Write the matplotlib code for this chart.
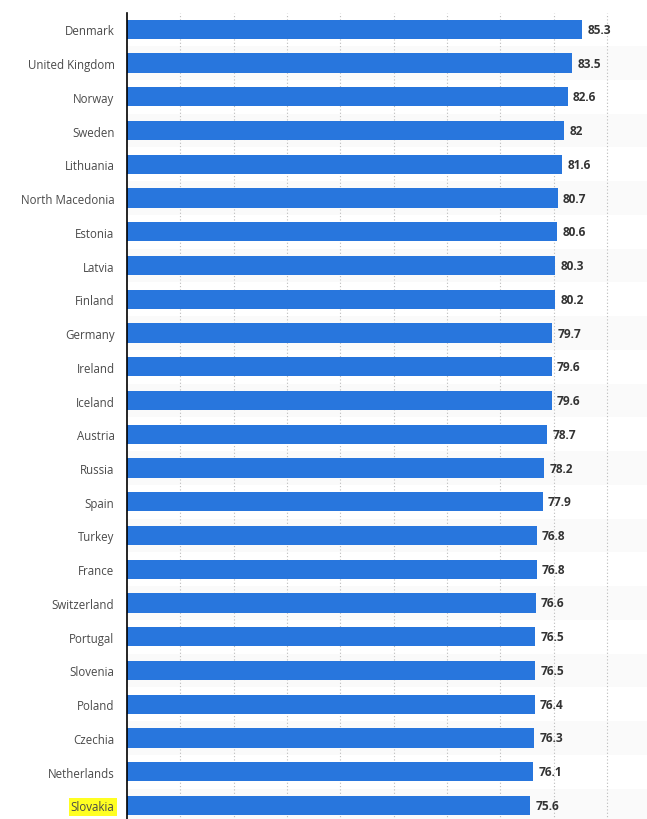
import matplotlib.pyplot as plt
import numpy as np

countries = ["Denmark", "United Kingdom", "Norway", "Sweden", "Lithuania",
             "North Macedonia", "Estonia", "Latvia", "Finland", "Germany",
             "Ireland", "Iceland", "Austria", "Russia", "Spain", "Turkey",
             "France", "Switzerland", "Portugal", "Slovenia", "Poland",
             "Czechia", "Netherlands", "Slovakia"]
values = [85.3, 83.5, 82.6, 82, 81.6, 80.7, 80.6, 80.3, 80.2, 79.7, 79.6,
          79.6, 78.7, 78.2, 77.9, 76.8, 76.8, 76.6, 76.5, 76.5, 76.4, 76.3,
          76.1, 75.6]
labels = ["85.3", "83.5", "82.6", "82", "81.6", "80.7", "80.6", "80.3",
          "80.2", "79.7", "79.6", "79.6", "78.7", "78.2", "77.9", "76.8",
          "76.8", "76.6", "76.5", "76.5", "76.4", "76.3", "76.1", "75.6"]

W, H = 647, 820
fig = plt.figure(figsize=(W / 100, H / 100), dpi=100)
# axes slightly below the bottom edge, like the cropped screenshot
top_px, bot_px = 13.5, 823.3
ax = fig.add_axes([127 / W, 1 - bot_px / H, 1 - 127 / W, (bot_px - top_px) / H])

y = np.arange(len(countries))
# alternating row bands
for i in y:
    if i % 2 == 1:
        ax.axhspan(i - 0.5, i + 0.5, color="#fafafa", zorder=0, lw=0)

ax.barh(y, values, height=0.57, color="#2876dd", zorder=3)
for yi, v, t in zip(y, values, labels):
    ax.annotate(t, (v, yi), xytext=(3.8, 0), textcoords="offset points",
                va="center", ha="left", fontsize=8.6, fontweight="bold",
                color="#333333", family="Open Sans")

ax.set_xlim(0, 97.47)
ax.set_ylim(len(countries) - 0.5, -0.5)
ax.set_xticks(np.arange(10, 100, 10))
ax.xaxis.grid(True, linestyle=(0, (1, 2)), color="#bbbbbb", lw=0.8, zorder=1)
ax.tick_params(axis="x", length=0, labelbottom=False)
ax.tick_params(axis="y", length=0, pad=9)
ax.set_yticks(y)
ax.set_yticklabels(countries, fontsize=8.3, color="#4a4a4a", family="Open Sans")
lbl = ax.get_yticklabels()[-1]
lbl.set_bbox(dict(facecolor="#ffff22", edgecolor="none", pad=1.5))

for s in ["top", "right", "bottom"]:
    ax.spines[s].set_visible(False)
ax.spines["left"].set_color("#000000")
ax.spines["left"].set_linewidth(1.2)
ax.spines["left"].set_zorder(4)

fig.savefig("out.png", dpi=100)
